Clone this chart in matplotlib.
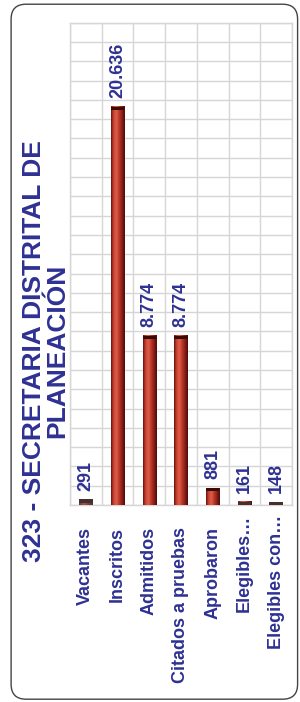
import numpy as np
import matplotlib
matplotlib.use("Agg")
import matplotlib.pyplot as plt
import matplotlib.transforms as mtransforms
from matplotlib.colors import LinearSegmentedColormap
from matplotlib.patches import FancyBboxPatch

# data
categories = ["Vacantes", "Inscritos", "Admitidos", "Citados a pruebas",
              "Aprobaron", "Elegibles…", "Elegibles con…"]
values = [291, 20636, 8774, 8774, 881, 161, 148]
value_labels = ["291", "20.636", "8.774", "8.774", "881", "161", "148"]
title = "323 - SECRETARIA DISTRITAL DE\nPLANEACIÓN"

BLUE = "#2e3192"
GRID = "#d6d6d6"

plt.rcParams["font.family"] = ["Liberation Sans", "DejaVu Sans"]

fig = plt.figure(figsize=(3.0, 7.02), dpi=100)

# rounded frame around the whole chart
frame = FancyBboxPatch((0.037, 0.004), 0.955, 0.99,
                       boxstyle="round,pad=0,rounding_size=0.05",
                       transform=fig.transFigure, facecolor="none",
                       edgecolor="#444444", linewidth=1.0,
                       mutation_aspect=300 / 702, zorder=-1)
fig.patches.append(frame)

ax = fig.add_axes([0.2333, 0.2806, 0.74, 0.687])
ax.set_facecolor("none")

x = np.arange(len(categories))
width = 0.42
bars = ax.bar(x, values, width=width, color="#b8332a", zorder=3)

# cylinder-like shading on each bar
cyl = LinearSegmentedColormap.from_list(
    "cyl", [(0.0, "#5c120c"), (0.15, "#c23a2b"), (0.38, "#e0604c"),
            (0.6, "#b83426"), (0.85, "#7a1a12"), (1.0, "#4a0b07")])
grad = np.linspace(0, 1, 64).reshape(1, -1)
for b, v in zip(bars, values):
    x0 = b.get_x()
    ax.imshow(grad, extent=[x0, x0 + width, 0, v], aspect="auto",
              cmap=cyl, zorder=4, interpolation="bicubic")
    cap = min(v, 180)
    ax.bar(x0 + width / 2, cap, bottom=v - cap, width=width,
           color="#3a0a06", zorder=5)
    if v < 400:
        ax.bar(x0 + width / 2, v, width=width, color="#555555",
               zorder=5, alpha=0.5)

for xi, v, lab in zip(x, values, value_labels):
    ax.text(xi, v + 450, lab, rotation=90, ha="center", va="bottom",
            color=BLUE, fontsize=13, fontweight="bold", zorder=6)

ax.set_xlim(-0.5, 6.5)
ax.set_ylim(0, 25000)
ax.set_xticks(x)
ax.set_xticklabels([])
ax.set_xticks(np.arange(-0.5, 6.6, 0.5), minor=True)
ax.set_yticks(np.arange(0, 25001, 1000))
ax.set_yticklabels([])
ax.tick_params(axis="both", which="both", length=0)
ax.grid(True, which="minor", axis="x", color=GRID, linewidth=1.0, zorder=0)
ax.grid(True, which="major", axis="y", color=GRID, linewidth=1.0, zorder=0)
for s in ax.spines.values():
    s.set_color(GRID)
    s.set_linewidth(1.0)

# category labels under the axis (truncated ones sit a little higher)
base = mtransforms.blended_transform_factory(ax.transData, ax.transAxes)
for xi, cat in zip(x, categories):
    drop = 0.10 if cat.endswith("…") else 0.215
    tr = base + mtransforms.ScaledTranslation(0, -drop, fig.dpi_scale_trans)
    ax.text(xi, 0, cat, transform=tr, rotation=90, ha="center", va="top",
            color=BLUE, fontsize=13, fontweight="bold", clip_on=False)

fig.text(0.152, 0.5, title, rotation=90, ha="center", va="center",
         multialignment="center", linespacing=1.0, color=BLUE,
         fontsize=19, fontweight="bold")

fig.savefig("out.png", dpi=100)
